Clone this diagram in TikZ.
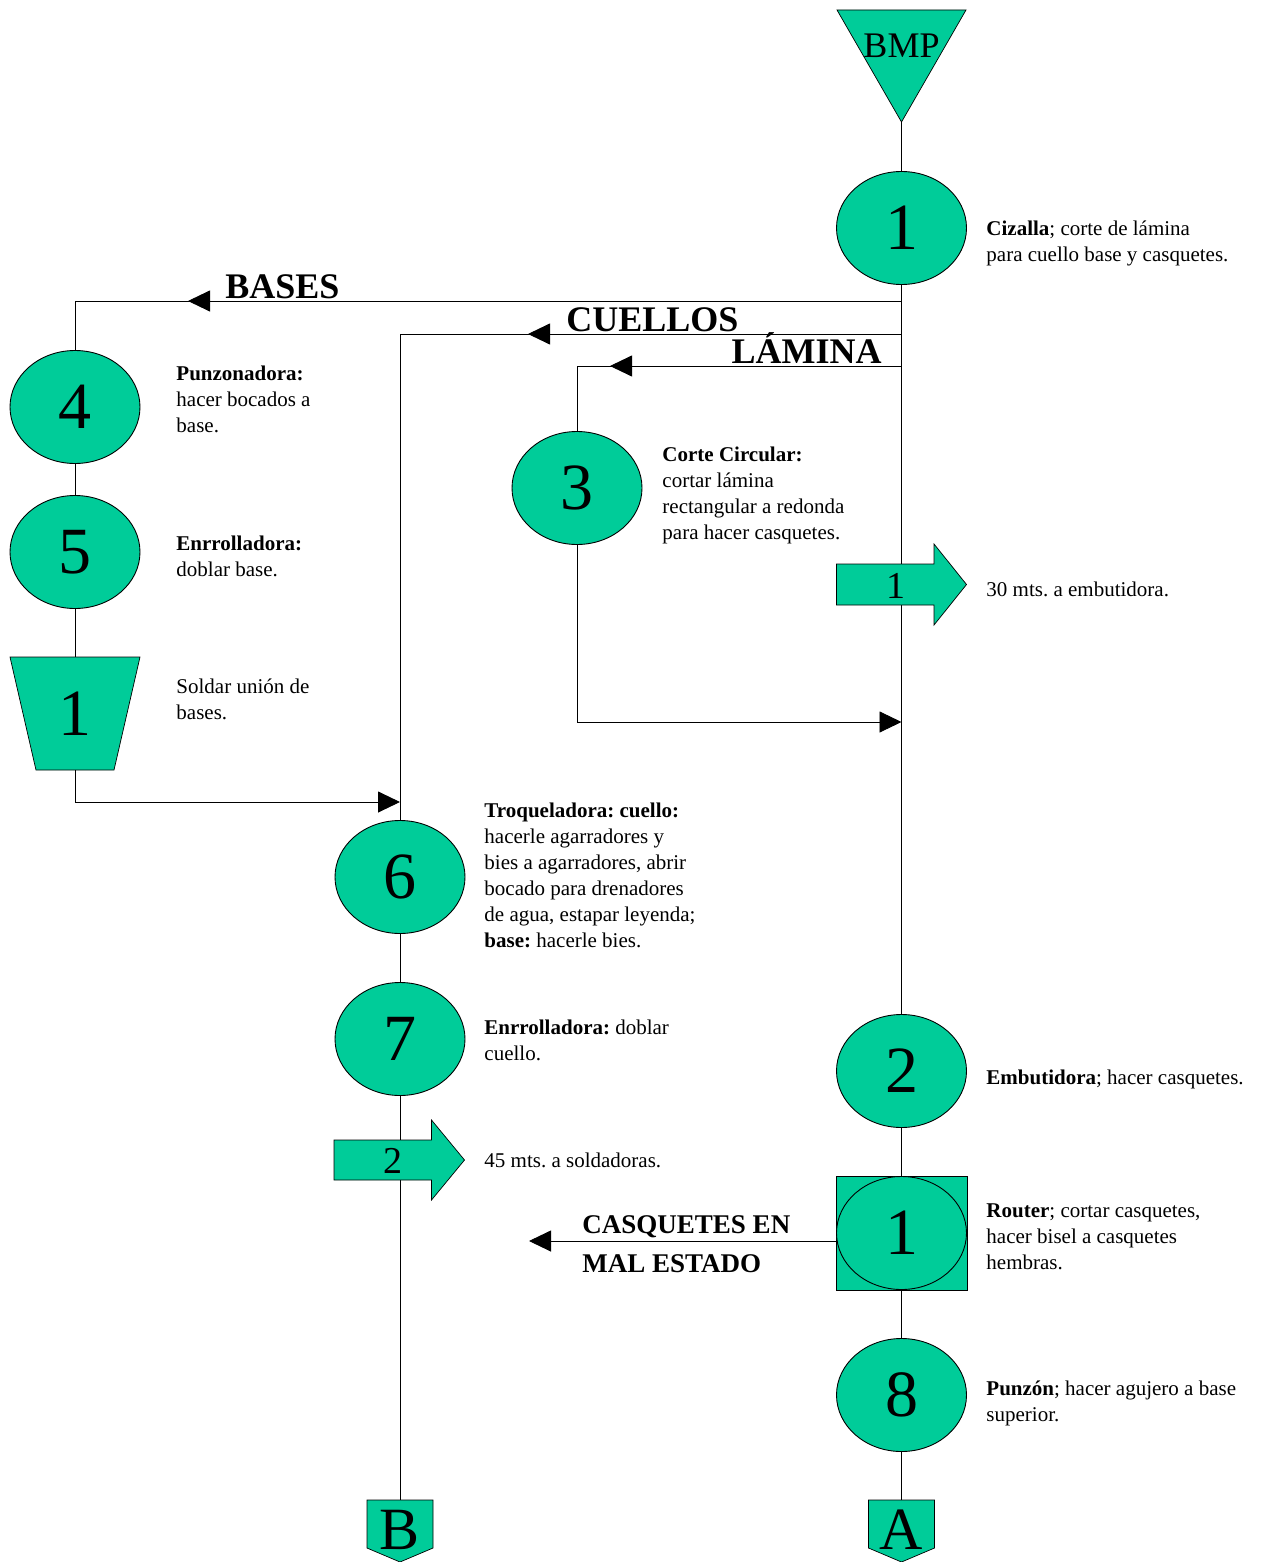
\documentclass[tikz,border=0pt]{standalone}
\usepackage{fontspec}
\setmainfont{Liberation Serif}
\usetikzlibrary{shapes.geometric,arrows.meta}
\definecolor{procfill}{RGB}{0,204,153}
\frenchspacing
% left-aligned block whose baseline is that of its first line
\newcommand\lns[1]{\begin{tabular}[t]{@{}l@{}}#1\end{tabular}}
\begin{document}
\begin{tikzpicture}[x=1pt,y=-1pt,line width=0.9pt,
  proc/.style={ellipse, draw, fill=procfill, minimum width=130pt, minimum height=113pt,
    inner sep=0pt, font=\fontsize{66}{66}\selectfont},
  tip/.style={-{Triangle[length=22pt,width=21pt]}},
  note/.style={anchor=base west, inner sep=0pt, font=\fontsize{21}{26}\selectfont},
  head/.style={inner sep=0pt, font=\fontsize{36}{36}\selectfont\bfseries},
  bignum/.style={inner sep=0pt, font=\fontsize{38}{38}\selectfont},
  letter/.style={anchor=base, inner sep=0pt, font=\fontsize{60}{60}\selectfont},
  shapeline/.style={draw=black, fill=procfill, line width=0.7pt},
]
\useasboundingbox (0,0) rectangle (1262,1562);

% ---------- storage triangle ----------
\filldraw[shapeline] (837,10) -- (966,10) -- (901.5,122) -- cycle;
\coordinate (bmp) at (901.5,122);
\node[anchor=base, inner sep=0pt, font=\fontsize{36}{36}\selectfont] (bmptxt) at (901.5,58) {BMP};

% ---------- operations ----------
\node[proc] (c1) at (901.5,228) {1};
\node[proc] (c2) at (901.5,1071) {2};
\node[draw, fill=procfill, minimum width=131pt, minimum height=114pt, inner sep=0pt, line width=0.7pt] (sq) at (901.5,1233) {};
\node[proc] (c1b) at (sq.center) {1};
\node[proc] (c8) at (901.5,1395) {8};
\node[proc] (c3) at (577,488) {3};
\node[proc] (c4) at (75,407) {4};
\node[proc] (c5) at (75,552) {5};
\node[proc] (c6) at (400,877) {6};
\node[proc] (c7) at (400,1039) {7};

% inspection trapezoid
\filldraw[shapeline] (10,657) -- (140,657) -- (114,770) -- (36,770) -- cycle;
\node[minimum width=130pt, minimum height=113pt, inner sep=0pt, font=\fontsize{66}{66}\selectfont] (t1) at (75,713.5) {1};

% off-page connectors
\filldraw[shapeline] (868.5,1500) -- (934.5,1500) -- (934.5,1548) -- (901.5,1562) -- (868.5,1548) -- cycle;
\node[minimum width=66pt, minimum height=48pt, inner sep=0pt] (pA) at (901.5,1524) {};
\node[letter] (pAt) at (901.5,1549) {A};
\filldraw[shapeline] (367,1500) -- (433,1500) -- (433,1548) -- (400,1562) -- (367,1548) -- cycle;
\node[minimum width=66pt, minimum height=48pt, inner sep=0pt] (pB) at (400,1524) {};
\node[letter] (pBt) at (400,1549) {B};

% ---------- junctions and arrow tips ----------
\coordinate (jB) at (901.5,301);
\coordinate (jC) at (901.5,334);
\coordinate (jL) at (901.5,366);
\coordinate (j3) at (901.5,722);
\coordinate (tB) at (188,301);
\coordinate (tC) at (528,334);
\coordinate (tL) at (610,366);
\coordinate (t6) at (400,802);
\coordinate (cq) at (529,1241);

% ---------- main line ----------
\draw (bmp) -- (c1);
\draw (c1) -- (c2);
\draw (c2) -- (sq);
\draw (sq) -- (c8);
\draw (c8) -- (pA);

% branches
\draw (jB) -| (c4);
\draw[tip] (jB) -- (tB);
\draw (jC) -| (c6);
\draw[tip] (jC) -- (tC);
\draw (jL) -| (c3);
\draw[tip] (jL) -- (tL);
\draw[tip] (c3) |- (j3);
\draw (c4) -- (c5);
\draw (c5) -- (t1);
\draw[tip] (t1.south) |- (t6);
\draw (c6) -- (c7);
\draw (c7) -- (pB);
\draw[tip] (sq.west |- cq) -- (cq);

% ---------- transport arrows ----------
\filldraw[shapeline] (836.5,564) -- (934,564) -- (934,544) -- (966.5,584.5) -- (934,625) -- (934,605) -- (836.5,605) -- cycle;
\node[bignum] (m1) at (896,586) {1};
\filldraw[shapeline] (334,1140) -- (431.5,1140) -- (431.5,1120) -- (464.5,1160) -- (431.5,1200) -- (431.5,1180) -- (334,1180) -- cycle;
\node[bignum] (m2) at (393,1161) {2};

% ---------- flow labels ----------
\node[head, anchor=base west] (lbases) at (225,298) {BASES};
\node[head, anchor=base west] (lcuellos) at (566,331) {CUELLOS};
\node[head, anchor=base east] (llamina) at (882,363) {LÁMINA};
\node[anchor=base west, inner sep=0pt, font=\fontsize{27}{39}\selectfont\bfseries] (lcasq) at (582,1233)
  {\lns{CASQUETES EN\\MAL ESTADO}};

% ---------- descriptions ----------
\node[note] (d1) at (986,236) {\lns{\textbf{Cizalla}; corte de lámina\\para cuello base y casquetes.}};
\node[note] (d4) at (176,380) {\lns{\textbf{Punzonadora:}\\hacer bocados a\\base.}};
\node[note] (d5) at (176,550) {\lns{\textbf{Enrrolladora:}\\doblar base.}};
\node[note] (dt) at (176,693) {\lns{Soldar unión de\\bases.}};
\node[note] (d3) at (662,461) {\lns{\textbf{Corte Circular:}\\cortar lámina\\rectangular a redonda\\para hacer casquetes.}};
\node[note] (dm1) at (986,596) {30 mts. a embutidora.};
\node[note] (d6) at (484,817) {\lns{\textbf{Troqueladora: cuello:}\\hacerle agarradores y\\bies a agarradores, abrir\\bocado para drenadores\\de agua, estapar leyenda;\\\textbf{base:} hacerle bies.}};
\node[note] (d7) at (484,1034) {\lns{\textbf{Enrrolladora:} doblar\\cuello.}};
\node[note] (dm2) at (484,1167) {45 mts. a soldadoras.};
\node[note] (d2) at (986,1084) {\textbf{Embutidora}; hacer casquetes.};
\node[note] (dr) at (986,1217) {\lns{\textbf{Router}; cortar casquetes,\\hacer bisel a casquetes\\hembras.}};
\node[note] (d8) at (986,1395) {\lns{\textbf{Punzón}; hacer agujero a base\\superior.}};
\end{tikzpicture}
\end{document}
